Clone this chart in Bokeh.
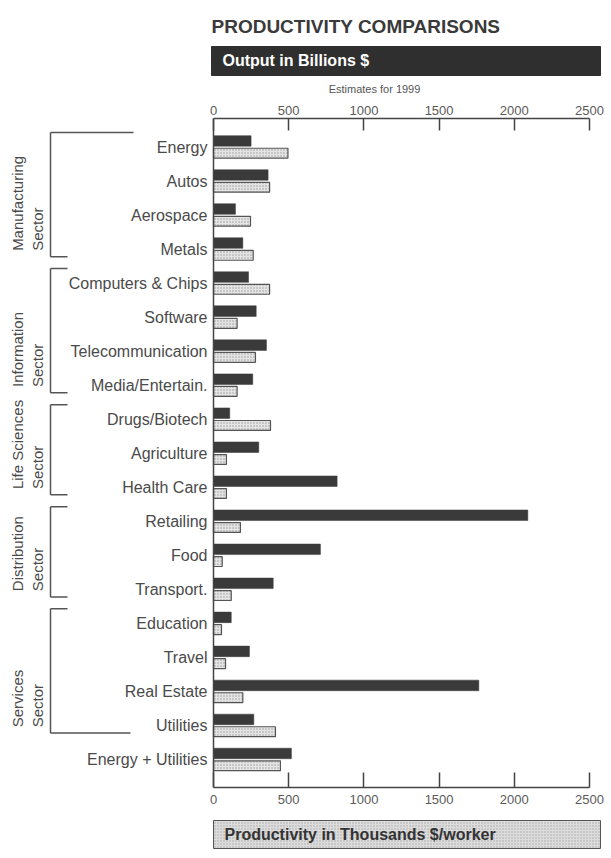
from bokeh.plotting import figure
from bokeh.models import Range1d, LinearAxis, FixedTicker, Span, ColumnDataSource
from bokeh.layouts import column
from bokeh.core.properties import value
from bokeh.embed import file_html
from bokeh.resources import INLINE
import math

# ---------------- data ----------------
categories = ["Energy", "Autos", "Aerospace", "Metals",
              "Computers & Chips", "Software", "Telecommunication", "Media/Entertain.",
              "Drugs/Biotech", "Agriculture", "Health Care",
              "Retailing", "Food", "Transport.",
              "Education", "Travel", "Real Estate", "Utilities",
              "Energy + Utilities"]
output_billions = [250, 363, 146, 195, 233, 284, 352, 261, 108, 301, 822,
                   2090, 711, 397, 118, 239, 1764, 268, 518]
productivity_thousands = [495, 373, 246, 264, 373, 157, 279, 157, 379, 86, 86,
                          179, 58, 118, 53, 80, 195, 412, 445]
sector_names = [("Manufacturing", "Sector"), ("Information", "Sector"),
                ("Life Sciences", "Sector"), ("Distribution", "Sector"),
                ("Services", "Sector")]
sector_first = ["Energy", "Computers & Chips", "Drugs/Biotech", "Retailing", "Education"]
sector_last = ["Metals", "Media/Entertain.", "Health Care", "Transport.", "Utilities"]
x_ticks = [0, 500, 1000, 1500, 2000, 2500]

title_text = "PRODUCTIVITY COMPARISONS"
top_banner_text = "Output in Billions $"
top_axis_note = "Estimates for 1999"
bottom_banner_text = "Productivity in Thousands $/worker"

# ---------------- geometry ----------------
W = 611
AX0 = 213.0                 # pixel of value 0
SCALE = 376.0 / 2500.0      # pixels per unit
def px2x(px):
    return (px - AX0) / SCALE

FONT = value("Liberation Sans")
TXT = "#4a4a4a"
DARK = "#3a3a3a"

n = len(categories)
idx = list(range(n))

# ---------------- header ----------------
header = figure(width=W, height=94, x_range=Range1d(0, W), y_range=Range1d(94, 0),
                x_axis_type=None, y_axis_type=None, toolbar_location=None,
                output_backend="svg", min_border=0, outline_line_color=None)
header.grid.visible = False
header.text(x=[211], y=[26], text=[title_text], text_font=FONT, text_font_size="19px",
            text_font_style="bold", text_color="#3a3a3a", text_baseline="middle",
            text_align="left")
header.quad(left=[211], right=[600], top=[46], bottom=[75], fill_color="#2f2f2f",
            line_color="#2f2f2f")
header.text(x=[222], y=[60], text=[top_banner_text], text_font=FONT, text_font_size="16px",
            text_font_style="bold", text_color="white", text_baseline="middle",
            text_align="left")
header.text(x=[374], y=[88], text=[top_axis_note], text_font=FONT, text_font_size="11px",
            text_color="#555555", text_baseline="middle", text_align="center")

# ---------------- main ----------------
main = figure(width=W, height=721,
              x_range=Range1d(px2x(0), px2x(W)),
              y_range=Range1d(start=n - 1 + 0.82, end=-0.84),
              x_axis_type="linear", y_axis_type=None, x_axis_location="below",
              toolbar_location=None, output_backend="svg",
              min_border_left=0, min_border_right=0,
              min_border_top=24, min_border_bottom=28,
              outline_line_color=None)
main.grid.visible = False

top_axis = LinearAxis()
main.add_layout(top_axis, "above")

for ax, tin, stand in ((main.below[0], 15, 7), (top_axis, 12, 4)):
    ax.ticker = FixedTicker(ticks=x_ticks)
    ax.bounds = (x_ticks[0], x_ticks[-1])
    ax.axis_line_color = "#444444"
    ax.axis_line_width = 1.5
    ax.major_tick_line_color = "#444444"
    ax.major_tick_line_width = 1.5
    ax.major_tick_in = tin
    ax.major_tick_out = 0
    ax.minor_tick_line_color = None
    ax.major_label_standoff = stand
    ax.major_label_text_font = "Liberation Sans"
    ax.major_label_text_font_size = "13px"
    ax.major_label_text_color = "#5a5a5a"

main.add_layout(Span(location=0, dimension="height", line_color="#444444", line_width=1.5))

src = ColumnDataSource(dict(
    y_dark=[i - 0.18 for i in idx],
    y_light=[i + 0.18 for i in idx],
    out=output_billions,
    prod=productivity_thousands,
    cat=categories,
    y=idx,
))
main.hbar(y="y_dark", left=0, right="out", height=0.31, source=src,
          fill_color=DARK, line_color=DARK, line_width=0.5)
main.hbar(y="y_light", left=0, right="prod", height=0.29, source=src,
          fill_color="#e4e4e4", line_color="#555555", line_width=1.2,
          hatch_pattern="dot", hatch_color="#9a9a9a", hatch_scale=3, hatch_weight=1)

main.text(x=px2x(207), y="y", text="cat", source=src, text_font=FONT,
          text_font_size="16px", text_color=TXT, text_align="right",
          text_baseline="middle")

# sector brackets and labels
xb = px2x(50)
xs = px2x(67)
for k, (l1, l2) in enumerate(sector_names):
    f = categories.index(sector_first[k])
    l = categories.index(sector_last[k])
    ytop = f - 0.43
    ybot = l + 0.22
    top_end = px2x(133) if k == 0 else xs
    bot_end = px2x(130) if k == len(sector_names) - 1 else xs
    main.segment(x0=[xb, xb, xb], y0=[ytop, ytop, ybot],
                 x1=[xb, top_end, bot_end], y1=[ybot, ytop, ybot],
                 line_color="#555555", line_width=1.5)
    ystart = l + 0.05
    main.text(x=[px2x(17)], y=[ystart], text=[l1], angle=math.pi / 2,
              text_font=FONT, text_font_size="15px", text_color=TXT,
              text_align="left", text_baseline="middle")
    main.text(x=[px2x(37)], y=[ystart], text=[l2], angle=math.pi / 2,
              text_font=FONT, text_font_size="15px", text_color=TXT,
              text_align="left", text_baseline="middle")

# ---------------- footer ----------------
footer = figure(width=W, height=43, x_range=Range1d(0, W), y_range=Range1d(43, 0),
                x_axis_type=None, y_axis_type=None, toolbar_location=None,
                output_backend="svg", min_border=0, outline_line_color=None)
footer.grid.visible = False
footer.quad(left=[213], right=[600], top=[5], bottom=[33], fill_color="#dcdcdc",
            line_color="#555555", line_width=1, hatch_pattern="dot",
            hatch_color="#a8a8a8", hatch_scale=3, hatch_weight=1)
footer.text(x=[224], y=[19], text=[bottom_banner_text], text_font=FONT,
            text_font_size="16px", text_font_style="bold", text_color="#333333",
            text_baseline="middle", text_align="left")

layout = column(header, main, footer, spacing=0)
open("out.html", "w").write(file_html(layout, INLINE))
